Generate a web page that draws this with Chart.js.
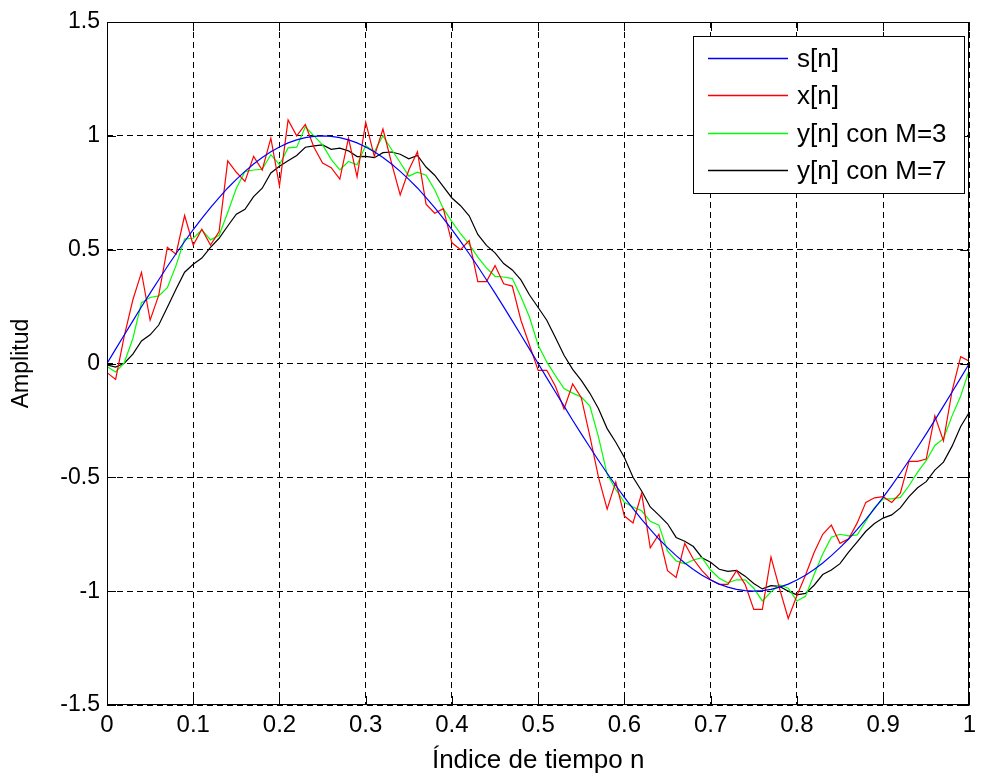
<!DOCTYPE html>
<html>
<head>
<meta charset="utf-8">
<script src="https://cdn.jsdelivr.net/npm/chart.js@4/dist/chart.umd.min.js"></script>
<style>
  body { margin: 0; background: #fff; }
  canvas { display: block; }
</style>
</head>
<body>
<canvas id="chart" width="982" height="778"></canvas>
<script>
// time index n (0 .. 1, step 0.01)
const nIndex = [
  0, 0.01, 0.02, 0.03, 0.04, 0.05, 0.06, 0.07, 0.08, 0.09,
  0.1, 0.11, 0.12, 0.13, 0.14, 0.15, 0.16, 0.17, 0.18, 0.19,
  0.2, 0.21, 0.22, 0.23, 0.24, 0.25, 0.26, 0.27, 0.28, 0.29,
  0.3, 0.31, 0.32, 0.33, 0.34, 0.35, 0.36, 0.37, 0.38, 0.39,
  0.4, 0.41, 0.42, 0.43, 0.44, 0.45, 0.46, 0.47, 0.48, 0.49,
  0.5, 0.51, 0.52, 0.53, 0.54, 0.55, 0.56, 0.57, 0.58, 0.59,
  0.6, 0.61, 0.62, 0.63, 0.64, 0.65, 0.66, 0.67, 0.68, 0.69,
  0.7, 0.71, 0.72, 0.73, 0.74, 0.75, 0.76, 0.77, 0.78, 0.79,
  0.8, 0.81, 0.82, 0.83, 0.84, 0.85, 0.86, 0.87, 0.88, 0.89,
  0.9, 0.91, 0.92, 0.93, 0.94, 0.95, 0.96, 0.97, 0.98, 0.99,
  1
];

// s[n]
const sClean = [
  0, 0.063, 0.125, 0.187, 0.249, 0.309, 0.368, 0.426, 0.482, 0.536,
  0.588, 0.637, 0.685, 0.729, 0.771, 0.809, 0.844, 0.876, 0.905, 0.930,
  0.951, 0.969, 0.982, 0.992, 0.998, 1.000, 0.998, 0.992, 0.982, 0.969,
  0.951, 0.930, 0.905, 0.876, 0.844, 0.809, 0.771, 0.729, 0.685, 0.637,
  0.588, 0.536, 0.482, 0.426, 0.368, 0.309, 0.249, 0.187, 0.125, 0.063,
  0, -0.063, -0.125, -0.187, -0.249, -0.309, -0.368, -0.426, -0.482, -0.536,
  -0.588, -0.637, -0.685, -0.729, -0.771, -0.809, -0.844, -0.876, -0.905, -0.930,
  -0.951, -0.969, -0.982, -0.992, -0.998, -1.000, -0.998, -0.992, -0.982, -0.969,
  -0.951, -0.930, -0.905, -0.876, -0.844, -0.809, -0.771, -0.729, -0.685, -0.637,
  -0.588, -0.536, -0.482, -0.426, -0.368, -0.309, -0.249, -0.187, -0.125, -0.063,
  0
];

// x[n] (noisy)
const xNoisy = [
  -0.04, -0.07, 0.12, 0.28, 0.40, 0.19, 0.30, 0.51, 0.48, 0.65,
  0.52, 0.59, 0.52, 0.58, 0.89, 0.84, 0.80, 0.91, 0.85, 0.99,
  0.78, 1.07, 1.00, 1.05, 0.95, 0.88, 0.86, 0.81, 0.99, 0.82,
  1.06, 0.91, 1.03, 0.88, 0.74, 0.85, 0.93, 0.70, 0.66, 0.68,
  0.53, 0.50, 0.54, 0.36, 0.36, 0.43, 0.35, 0.34, 0.19, 0.08,
  -0.03, -0.03, -0.10, -0.20, -0.09, -0.15, -0.32, -0.50, -0.64, -0.52,
  -0.67, -0.70, -0.57, -0.81, -0.75, -0.91, -0.94, -0.79, -0.86, -0.91,
  -0.95, -0.97, -0.97, -0.91, -0.97, -1.08, -1.08, -0.85, -0.99, -1.12,
  -1.02, -0.93, -0.83, -0.75, -0.71, -0.79, -0.77, -0.70, -0.61, -0.59,
  -0.585, -0.61, -0.57, -0.43, -0.43, -0.42, -0.23, -0.34, -0.12, 0.03,
  0.01
];

// y[n] con M=3
const yM3 = [
  -0.013, -0.037, 0.003, 0.110, 0.267, 0.290, 0.297, 0.333, 0.430, 0.547,
  0.550, 0.587, 0.543, 0.563, 0.663, 0.770, 0.843, 0.850, 0.853, 0.917,
  0.873, 0.947, 0.950, 1.040, 1.000, 0.960, 0.897, 0.850, 0.887, 0.873,
  0.957, 0.930, 1.000, 0.940, 0.883, 0.823, 0.840, 0.827, 0.763, 0.680,
  0.623, 0.570, 0.523, 0.467, 0.420, 0.383, 0.380, 0.373, 0.293, 0.203,
  0.080, 0.007, -0.053, -0.110, -0.130, -0.147, -0.187, -0.323, -0.487, -0.553,
  -0.610, -0.630, -0.647, -0.693, -0.710, -0.823, -0.867, -0.880, -0.863, -0.853,
  -0.907, -0.943, -0.963, -0.950, -0.950, -0.987, -1.043, -1.003, -0.973, -0.987,
  -1.043, -1.023, -0.927, -0.837, -0.763, -0.750, -0.757, -0.753, -0.693, -0.633,
  -0.595, -0.595, -0.588, -0.537, -0.477, -0.427, -0.360, -0.330, -0.230, -0.143,
  -0.027
];

// y[n] con M=7
const yM7 = [
  -0.006, -0.016, 0.001, 0.041, 0.099, 0.126, 0.169, 0.247, 0.326, 0.401,
  0.436, 0.463, 0.510, 0.550, 0.604, 0.656, 0.677, 0.733, 0.770, 0.837,
  0.866, 0.891, 0.914, 0.950, 0.956, 0.960, 0.941, 0.946, 0.934, 0.909,
  0.910, 0.904, 0.926, 0.929, 0.919, 0.899, 0.914, 0.863, 0.827, 0.777,
  0.727, 0.693, 0.649, 0.567, 0.519, 0.486, 0.439, 0.411, 0.367, 0.301,
  0.246, 0.190, 0.114, 0.036, -0.026, -0.074, -0.131, -0.199, -0.286, -0.346,
  -0.413, -0.500, -0.560, -0.630, -0.666, -0.704, -0.764, -0.781, -0.804, -0.853,
  -0.873, -0.904, -0.913, -0.909, -0.934, -0.966, -0.990, -0.976, -0.979, -1.000,
  -1.016, -1.010, -0.974, -0.927, -0.907, -0.879, -0.829, -0.783, -0.737, -0.703,
  -0.679, -0.665, -0.634, -0.585, -0.546, -0.519, -0.468, -0.433, -0.363, -0.277,
  -0.214
];

const xTickValues = [0, 0.1, 0.2, 0.3, 0.4, 0.5, 0.6, 0.7, 0.8, 0.9, 1];
const yTickValues = [-1.5, -1, -0.5, 0, 0.5, 1, 1.5];
const seriesNames = ['s[n]', 'x[n]', 'y[n] con M=3', 'y[n] con M=7'];
const seriesColors = ['#0000ff', '#ff0000', '#00ff00', '#000000'];

const toPoints = vals => vals.map((v, i) => ({ x: nIndex[i], y: v }));
const allSeries = [sClean, xNoisy, yM3, yM7];

// axes box, inward tick marks and legend like the matlab figure
const matlabFrame = {
  id: 'matlabFrame',
  afterDraw(chart) {
    const ctx = chart.ctx;
    const a = chart.chartArea;
    const xs = chart.scales.x, ys = chart.scales.y;
    const tl = 9;
    ctx.save();
    ctx.strokeStyle = '#000';
    ctx.lineWidth = 1;
    ctx.setLineDash([]);
    ctx.beginPath();
    xTickValues.forEach(v => {
      const px = Math.round(xs.getPixelForValue(v)) + 0.5;
      ctx.moveTo(px, a.bottom); ctx.lineTo(px, a.bottom - tl);
      ctx.moveTo(px, a.top); ctx.lineTo(px, a.top + tl);
    });
    yTickValues.forEach(v => {
      const py = Math.round(ys.getPixelForValue(v)) + 0.5;
      ctx.moveTo(a.left, py); ctx.lineTo(a.left + tl, py);
      ctx.moveTo(a.right, py); ctx.lineTo(a.right - tl, py);
    });
    ctx.stroke();
    ctx.strokeRect(Math.round(a.left) + 0.5, Math.round(a.top) + 0.5,
      Math.round(a.right - a.left) - 1, Math.round(a.bottom - a.top) - 1);

    // legend
    const box = { x: 693.5, y: 36.5, w: 271, h: 157 };
    ctx.fillStyle = '#fff';
    ctx.fillRect(box.x, box.y, box.w, box.h);
    ctx.strokeRect(box.x, box.y, box.w, box.h);
    ctx.font = '26px "Liberation Sans", Arial, sans-serif';
    ctx.textBaseline = 'middle';
    ctx.textAlign = 'left';
    seriesNames.forEach((name, i) => {
      const ry = Math.round(58 + i * 37.4) + 0.5;
      ctx.beginPath();
      ctx.strokeStyle = seriesColors[i];
      ctx.lineWidth = 1.5;
      ctx.moveTo(708, ry); ctx.lineTo(788, ry);
      ctx.stroke();
      ctx.fillStyle = '#000';
      ctx.fillText(name, 797, ry + 1);
    });
    ctx.restore();
  }
};

new Chart(document.getElementById('chart'), {
  type: 'line',
  data: {
    datasets: allSeries.map((vals, i) => ({
      label: seriesNames[i],
      data: toPoints(vals),
      borderColor: seriesColors[i],
      borderWidth: 1.2,
      pointRadius: 0,
      tension: 0,
      fill: false
    }))
  },
  options: {
    responsive: false,
    animation: false,
    events: [],
    layout: { padding: { left: 0, right: 6, top: 22, bottom: 0 } },
    plugins: { legend: { display: false }, tooltip: { enabled: false } },
    scales: {
      x: {
        type: 'linear',
        min: 0,
        max: 1,
        afterBuildTicks: s => { s.ticks = xTickValues.map(v => ({ value: v })); },
        afterFit: s => { s.height = 73; },
        ticks: {
          color: '#000',
          padding: 6,
          maxRotation: 0,
          autoSkip: false,
          font: { family: '"Liberation Sans", Arial, sans-serif', size: 24 },
          callback: v => String(v)
        },
        grid: { color: '#000', lineWidth: 1, drawTicks: false },
        border: { display: false, dash: [6, 4] },
        title: {
          display: true,
          text: 'Índice de tiempo n',
          color: '#000',
          padding: { top: 0, bottom: 2 },
          font: { family: '"Liberation Sans", Arial, sans-serif', size: 26 }
        }
      },
      y: {
        min: -1.5,
        max: 1.5,
        afterBuildTicks: s => { s.ticks = yTickValues.map(v => ({ value: v })); },
        afterFit: s => { s.width = 107; },
        ticks: {
          color: '#000',
          padding: 7,
          font: { family: '"Liberation Sans", Arial, sans-serif', size: 23 },
          callback: v => String(v)
        },
        grid: { color: '#000', lineWidth: 1, drawTicks: false },
        border: { display: false, dash: [6, 4] },
        title: {
          display: true,
          text: 'Amplitud',
          color: '#000',
          padding: { top: 8, bottom: 0 },
          font: { family: '"Liberation Sans", Arial, sans-serif', size: 23 }
        }
      }
    }
  },
  plugins: [matlabFrame]
});
</script>
</body>
</html>
